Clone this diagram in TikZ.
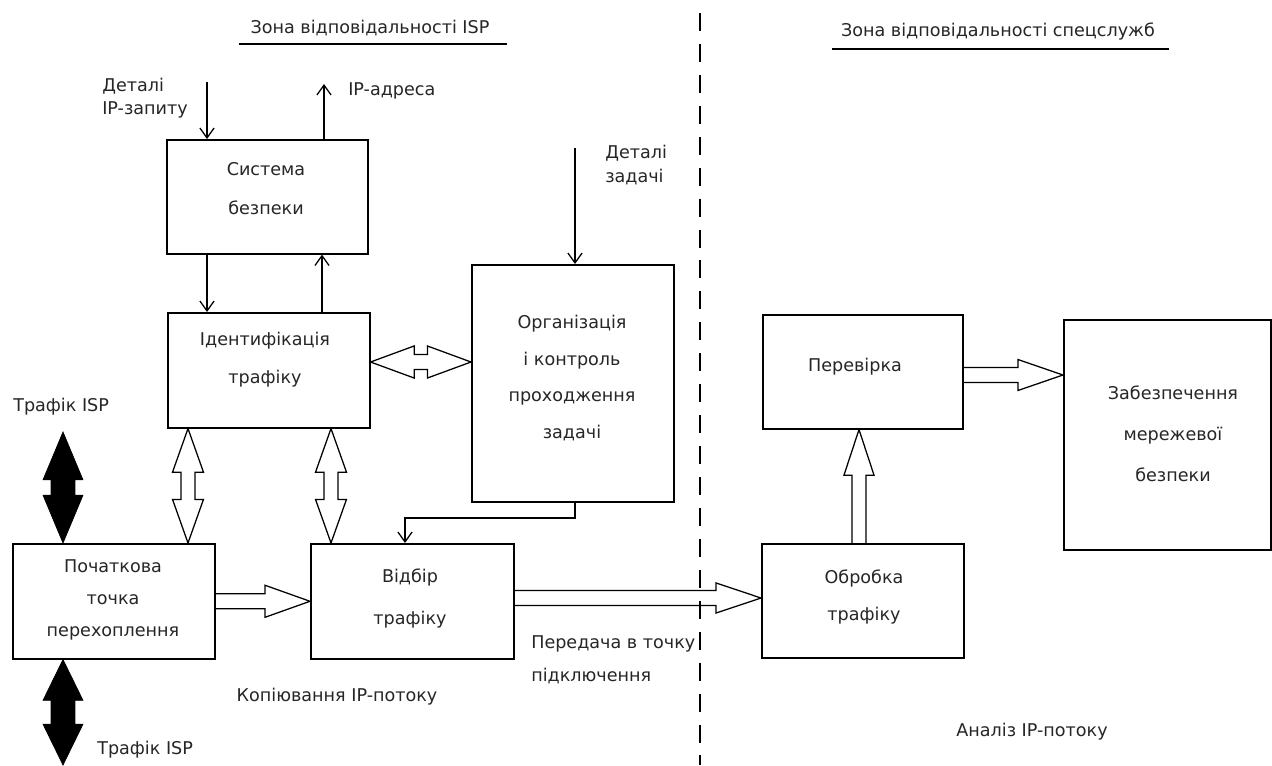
\documentclass[tikz,border=0pt]{standalone}
\usepackage{fontspec}
\setmainfont{DejaVu Sans}
\usetikzlibrary{arrows.meta,calc}

% horizontal double-headed block arrow: #1 left tip, #2 right tip, #3 shaft half width, #4 head half width, #5 head length, #6 style
\newcommand{\blkDblH}[6]{\draw[#6] let \p1=(#1), \p2=(#2) in
  (\x1,\y1) -- (\x1+#5,\y1+#4) -- (\x1+#5,\y1+#3) -- (\x2-#5,\y1+#3) -- (\x2-#5,\y1+#4) -- (\x2,\y1)
  -- (\x2-#5,\y1-#4) -- (\x2-#5,\y1-#3) -- (\x1+#5,\y1-#3) -- (\x1+#5,\y1-#4) -- cycle;}
% vertical double-headed block arrow: #1 top tip, #2 bottom tip
\newcommand{\blkDblV}[6]{\draw[#6] let \p1=(#1), \p2=(#2) in
  (\x1,\y1) -- (\x1+#4,\y1-#5) -- (\x1+#3,\y1-#5) -- (\x1+#3,\y2+#5) -- (\x1+#4,\y2+#5) -- (\x1,\y2)
  -- (\x1-#4,\y2+#5) -- (\x1-#3,\y2+#5) -- (\x1-#3,\y1-#5) -- (\x1-#4,\y1-#5) -- cycle;}
% horizontal single block arrow: #1 start, #2 tip (to the right)
\newcommand{\blkSglH}[6]{\draw[#6] let \p1=(#1), \p2=(#2) in
  (\x1,\y1+#3) -- (\x2-#5,\y1+#3) -- (\x2-#5,\y1+#4) -- (\x2,\y1) -- (\x2-#5,\y1-#4) -- (\x2-#5,\y1-#3) -- (\x1,\y1-#3);}
% vertical single block arrow: #1 start (bottom), #2 tip (top)
\newcommand{\blkSglV}[6]{\draw[#6] let \p1=(#1), \p2=(#2) in
  (\x1-#3,\y1) -- (\x1-#3,\y2-#5) -- (\x1-#4,\y2-#5) -- (\x1,\y2) -- (\x1+#4,\y2-#5) -- (\x1+#3,\y2-#5) -- (\x1+#3,\y1);}

\tikzset{
  bx/.style 2 args={draw, line width=1.1pt, anchor=north west, inner sep=0pt,
     minimum width=#1*0.025cm, minimum height=#2*0.025cm},
  lbl/.style={text=black!85, inner sep=0pt, align=center},
  lbll/.style={text=black!85, inner sep=0pt, align=left, anchor=west},
  fs/.style={font={\fontsize{12.5}{#1}\selectfont}},
  thinarr/.style={line width=0.9pt, -{Straight Barb[length=7pt,width=10pt]}},
  hollow/.style={line width=0.9pt, line join=miter},
  solidblk/.style={fill=black, draw=black, line width=0.5pt},
  zoneline/.style={line width=1.4pt, dash pattern=on 12.8pt off 9.2pt},
  uline/.style={line width=1.1pt}
}

\begin{document}
\begin{tikzpicture}[x=0.025cm, y=-0.025cm]
\fill[white] (0,0) rectangle (1272,765);
\useasboundingbox (0,0) rectangle (1272,765);

% titles
\node[lbl, fs=15pt] (t1) at (370,28) {Зона відповідальності ISP};
\node[lbl, fs=15pt] (t2) at (998,31) {Зона відповідальності спецслужб};
\draw[uline] (239,44) -- (507,44);
\draw[uline] (832,49) -- (1169,49);

% zone separator
\draw[zoneline] (700,13) -- (700,765);

% boxes
\node[bx={201}{114}] (sys) at (166,139) {};
\node[bx={202}{115}] (idn) at (167,312) {};
\node[bx={202}{237}] (org) at (471,264) {};
\node[bx={202}{115}] (pt)  at (12,543) {};
\node[bx={203}{115}] (vb)  at (310,543) {};
\node[bx={200}{114}] (pv)  at (762,314) {};
\node[bx={202}{114}] (ob)  at (761,543) {};
\node[bx={207}{230}] (zb)  at (1063,319) {};

% box texts
\node[lbl, fs=27.7pt] (sysT) at (266,188.5) {Система\\безпеки};
\node[lbl, fs=27pt]   (idnT) at (265,360) {Ідентифікація\\трафіку};
\node[lbl, fs=26.1pt] (orgT) at (572,378) {Організація\\і контроль\\проходження\\задачі};
\node[lbl, fs=22.8pt] (ptT)  at (113,600) {Початкова\\точка\\перехоплення};
\node[lbl, fs=29.2pt] (vbT)  at (410,598.5) {Відбір\\трафіку};
\node[lbl, fs=15pt]   (pvT)  at (855,367) {Перевірка};
\node[lbl, fs=26.3pt] (obT)  at (864,596.5) {Обробка\\трафіку};
\node[lbl, fs=29.2pt] (zbT)  at (1173,434) {Забезпечення\\мережевої\\безпеки};

% free labels
\node[lbll, fs=16.4pt] (dIP) at (102,98.5) {Деталі\\IP-запиту};
\node[lbll, fs=15pt]   (ipA) at (348,91) {IP-адреса};
\node[lbll, fs=17.1pt] (dZ)  at (605,165) {Деталі\\задачі};
\node[lbll, fs=15pt]   (tr1) at (13,407) {Трафік ISP};
\node[lbll, fs=15pt]   (tr2) at (97,750) {Трафік ISP};
\node[lbl, fs=15pt]    (cop) at (337,697) {Копіювання IP-потоку};
\node[lbll, fs=23.5pt] (per) at (531,659.5) {Передача в точку\\підключення};
\node[lbl, fs=15pt]    (an)  at (1032,732) {Аналіз IP-потоку};

% free ends
\coordinate (dIn)  at (207,82);
\coordinate (ipOut) at (324,84);
\coordinate (dzIn) at (575,148);
\coordinate (bend) at (405,518);
\coordinate (trTop) at (63,432);
\coordinate (trBot) at (63,765);

% thin connectors
\draw[thinarr] (dIn) -- (sys.north -| dIn);
\draw[thinarr] (sys.north -| ipOut) -- (ipOut);
\draw[thinarr] (sys.south -| 207,0) -- (idn.north -| 207,0);
\draw[thinarr] (idn.north -| 322,0) -- (sys.south -| 322,0);
\draw[thinarr] (dzIn) -- (org.north -| dzIn);
\draw[thinarr] (org.south -| 575,0) |- (bend) -- (vb.north -| bend);

% hollow block arrows
\blkDblH{idn.east |- 0,362}{org.west |- 0,362}{5.3pt}{11.4pt}{31pt}{hollow}
\blkDblV{idn.south -| 188,0}{pt.north -| 188,0}{5pt}{11pt}{31pt}{hollow}
\blkDblV{idn.south -| 331,0}{vb.north -| 331,0}{5pt}{11pt}{31pt}{hollow}
\blkSglH{pt.east}{vb.west}{5.3pt}{11.4pt}{32pt}{hollow}
\blkSglH{vb.east |- 0,598}{ob.west |- 0,598}{5.3pt}{10.7pt}{32pt}{hollow}
\blkSglH{pv.east |- 0,375}{zb.west |- 0,375}{5.3pt}{11pt}{32pt}{hollow}
\blkSglV{ob.north -| 859,0}{pv.south -| 859,0}{5pt}{10.7pt}{32.5pt}{hollow}

% solid traffic arrows
\blkDblV{trTop}{pt.north -| trTop}{8.5pt}{14.2pt}{34pt}{solidblk}
\blkDblV{pt.south -| trBot}{trBot}{8.5pt}{14.2pt}{29pt}{solidblk}
\end{tikzpicture}
\end{document}
